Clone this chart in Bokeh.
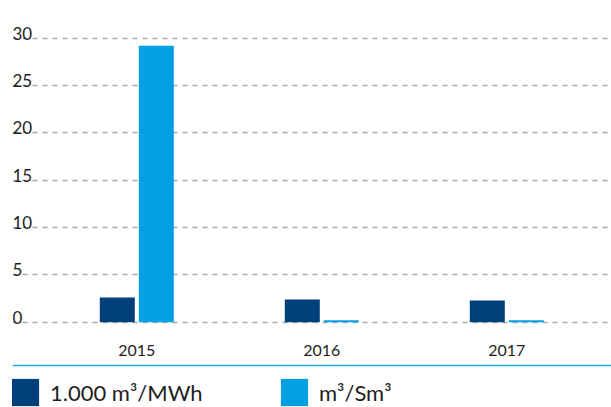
from bokeh.plotting import figure
from bokeh.models import (ColumnDataSource, Range1d, Grid, FixedTicker, Span,
                          Legend, LegendItem)
from bokeh.transform import dodge
from bokeh.core.properties import value
from bokeh.embed import file_html
from bokeh.resources import INLINE

# ---- data ----
years = ["2015", "2016", "2017"]
series_names = ["1.000 m³/MWh", "m³/Sm³"]
mwh = [2.6, 2.4, 2.3]
sm3 = [29.2, 0.2, 0.2]
yticks = [0, 5, 10, 15, 20, 25, 30]
ytick_labels = ["0", "5", "10", "15", "20", "25", "30"]

# ---- styles / layout (pixels) ----
DARK = "#00407a"
LIGHT = "#00a0e2"
TEXT = "#1e1e1e"
FONT = "Lato"
W, H = 611, 407
LEFT_PAD = 12
ZERO_PX = 321.7      # canvas y of value 0
TOP_PX = 37.7        # canvas y of value 30
PX_PER_UNIT = (ZERO_PX - TOP_PX) / 30.0
GROUP_PX = 185.0     # px per category
FIRST_PX = 136.3     # canvas x of first category centre

y_start = -(H - ZERO_PX) / PX_PER_UNIT
y_end = ZERO_PX / PX_PER_UNIT
x_start = -(FIRST_PX - LEFT_PAD) / GROUP_PX
x_end = x_start + (W - LEFT_PAD) / GROUP_PX


def ypx(canvas_y):
    return (ZERO_PX - canvas_y) / PX_PER_UNIT


idx = list(range(len(years)))
src = ColumnDataSource(dict(x=idx, year=years, mwh=mwh, sm3=sm3))

p = figure(width=W, height=H, output_backend="svg", toolbar_location=None,
           x_axis_type=None, y_axis_type=None,
           x_range=Range1d(x_start, x_end), y_range=Range1d(y_start, y_end),
           min_border_left=LEFT_PAD, min_border_right=0,
           min_border_top=0, min_border_bottom=0)
p.outline_line_color = None
p.background_fill_color = "white"
p.border_fill_color = "white"

grid = Grid(dimension=1, ticker=FixedTicker(ticks=yticks),
            grid_line_color="#a8a8a8", grid_line_width=1.6,
            grid_line_dash="5 5")
p.add_layout(grid)

bw = 35 / GROUP_PX
off = 19.5 / GROUP_PX
r1 = p.vbar(x=dodge("x", -off, range=p.x_range), top="mwh", width=bw,
            source=src, fill_color=DARK, line_color=None)
r2 = p.vbar(x=dodge("x", off, range=p.x_range), top="sm3", width=bw,
            source=src, fill_color=LIGHT, line_color=None)

# y tick labels (above the grid lines, left aligned)
ysrc = ColumnDataSource(dict(x=[x_start] * len(yticks), y=yticks, t=ytick_labels))
p.text(x="x", y="y", text="t", source=ysrc, text_font=value(FONT),
       text_font_size="17px", text_color=TEXT, text_align="left",
       text_baseline="alphabetic", y_offset=-5)

# x category labels
p.text(x="x", y=0, text="year", source=src, text_font=value(FONT),
       text_font_size="16px", text_color=TEXT, text_align="center",
       text_baseline="alphabetic", y_offset=28)

# separator line
p.add_layout(Span(location=ypx(365), dimension="width", line_color="#2aa9e0",
                  line_width=1.6))

legend = Legend(items=[LegendItem(label=series_names[0], renderers=[r1]),
                       LegendItem(label=series_names[1], renderers=[r2])],
                orientation="horizontal", location=(-4, -2),
                glyph_width=34, glyph_height=34, label_standoff=8,
                label_width=200, spacing=27, padding=0, margin=0,
                border_line_color=None, background_fill_alpha=0,
                label_text_font=FONT, label_text_font_size="22px",
                label_text_color=TEXT)
p.add_layout(legend)

open("out.html", "w").write(file_html(p, INLINE))
